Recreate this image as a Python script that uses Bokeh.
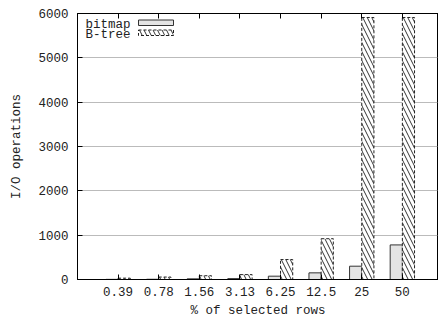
import numpy as np
from bokeh.plotting import figure
from bokeh.models import (ColumnDataSource, FixedTicker, LinearAxis, Range1d,
                          Label, BoxAnnotation)
from bokeh.embed import file_html
from bokeh.resources import INLINE

categories = ["0.39", "0.78", "1.56", "3.13", "6.25", "12.5", "25", "50"]
bitmap = [3, 5, 15, 20, 75, 150, 300, 780]
btree = [30, 55, 85, 110, 450, 920, 5910, 5910]
y_ticks = [0, 1000, 2000, 3000, 4000, 5000, 6000]

FONT = "Liberation Mono"
FS = "12.5px"

pos = np.arange(1, len(categories) + 1)
bw = 0.3
src = ColumnDataSource(dict(x_bm=pos - bw / 2, x_bt=pos + bw / 2,
                            bitmap=bitmap, btree=btree))

p = figure(width=438, height=320, output_backend="svg", toolbar_location=None,
           x_range=Range1d(0, 8.89), y_range=Range1d(0, 6000),
           min_border_left=77, min_border_right=0, min_border_top=13,
           min_border_bottom=41)

p.vbar(x="x_bm", top="bitmap", width=bw, source=src, fill_color="#e4e4e4",
       line_color="#333333", line_width=1)
p.vbar(x="x_bt", top="btree", width=bw, source=src, fill_color="white",
       line_color="#222222", line_width=1, line_dash="3 2",
       hatch_pattern="left_diagonal_line", hatch_color="#333333",
       hatch_scale=9, hatch_weight=1)

p.xaxis.ticker = FixedTicker(ticks=list(pos))
p.xaxis.major_label_overrides = {int(k): v for k, v in zip(pos, categories)}
p.yaxis.ticker = FixedTicker(ticks=y_ticks)
for ax in (p.xaxis[0], p.yaxis[0]):
    ax.major_tick_in = 5
    ax.major_tick_out = 0
    ax.minor_tick_line_color = None
    ax.axis_line_color = "black"
    ax.major_tick_line_color = "black"
    ax.major_label_text_font = FONT
    ax.major_label_text_font_size = FS
    ax.major_label_text_color = "#222222"
    ax.axis_label_text_font = FONT
    ax.axis_label_text_font_size = FS
    ax.axis_label_text_font_style = "normal"
    ax.axis_label_text_color = "#222222"
p.xaxis.axis_label = "% of selected rows"
p.yaxis.axis_label = "I/O operations"
p.xaxis.major_label_standoff = 7
p.xaxis.axis_label_standoff = 5
p.yaxis.major_label_standoff = 9
p.yaxis.axis_label_standoff = 11

top = LinearAxis(ticker=FixedTicker(ticks=list(pos)), major_tick_in=5,
                 major_tick_out=0, minor_tick_line_color=None,
                 major_label_overrides={int(k): "" for k in pos},
                 major_label_standoff=0, axis_line_color="black")
p.add_layout(top, "above")

p.xgrid.grid_line_color = None
p.ygrid.grid_line_color = "#777777"
p.ygrid.grid_line_dash = "1 1"
p.outline_line_color = "black"
p.outline_line_alpha = 1

# legend (gnuplot style: label then swatch)
p.add_layout(Label(x=8, y=255, x_units="screen", y_units="screen", text="bitmap",
                   text_font=FONT, text_font_size=FS, text_color="#222222",
                   text_baseline="middle"))
p.add_layout(Label(x=8, y=245, x_units="screen", y_units="screen", text="B-tree",
                   text_font=FONT, text_font_size=FS, text_color="#222222",
                   text_baseline="middle"))
p.add_layout(BoxAnnotation(left=61, right=96, bottom=254, top=259.5,
                           left_units="screen", right_units="screen",
                           bottom_units="screen", top_units="screen",
                           fill_color="#e4e4e4", fill_alpha=1,
                           line_color="#333333", line_alpha=1, line_width=1))
p.add_layout(BoxAnnotation(left=61, right=96, bottom=244, top=249.5,
                           left_units="screen", right_units="screen",
                           bottom_units="screen", top_units="screen",
                           fill_color="white", fill_alpha=1,
                           line_color="#222222", line_alpha=1, line_width=1,
                           line_dash="3 2", hatch_pattern="left_diagonal_line",
                           hatch_color="#333333", hatch_scale=9, hatch_weight=1))

open("out.html", "w").write(file_html(p, INLINE))
